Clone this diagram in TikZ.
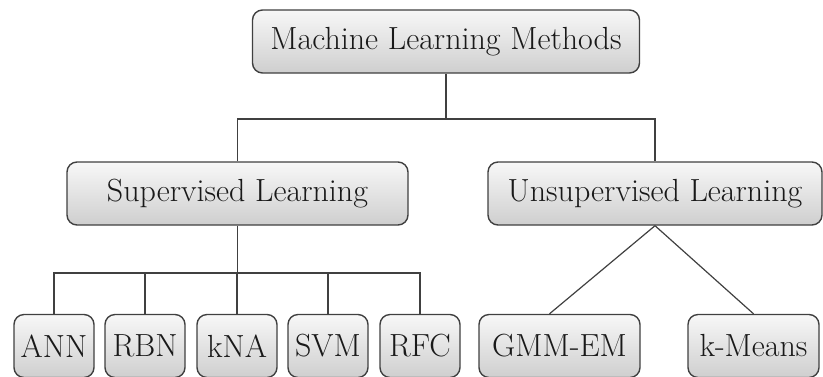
\documentclass[tikz,border=0pt]{standalone}
\usetikzlibrary{positioning,calc}
\tikzset{
mlbox/.style={draw=black!75, line width=0.7pt, rounded corners=5pt,
  top color=gray!6, bottom color=gray!38, inner sep=0pt,
  minimum height=31.5pt, text=black!90,
  font=\fontsize{16}{19}\selectfont},
conn/.style={draw=black!75, line width=0.6pt},
}

\begin{document}
\begin{tikzpicture}[x=0.5pt,y=-0.5pt]
        \useasboundingbox (0,0) rectangle (823,376);
        % root and the two branches
        \node[mlbox, minimum width=193.5pt] (mlm) at (446,41.5) {Machine Learning Methods};
        \node[mlbox, minimum width=170.5pt] (sup) at (237.5,193.5) {Supervised Learning};
        \node[mlbox, minimum width=167pt] (uns) at (655,193.5) {Unsupervised Learning};
        % supervised methods
        \node[mlbox, minimum width=40pt] (ann) at (54,346) {ANN};
        \node[mlbox, minimum width=40pt] (rbn) at (145,346) {RBN};
        \node[mlbox, minimum width=40pt] (kna) at (237,346) {kNA};
        \node[mlbox, minimum width=40pt] (svm) at (328,346) {SVM};
        \node[mlbox, minimum width=40pt] (rfc) at (420,346) {RFC};
        % unsupervised methods
        \node[mlbox, minimum width=80.5pt] (gmm) at (559.5,346) {GMM-EM};
        \node[mlbox, minimum width=65.5pt] (kmeans) at (753.5,346) {k-Means};

        \coordinate (split) at (446,119);
        \coordinate (suprow) at (237.5,273);
        \draw[conn] (mlm.south) -- (split);
        \draw[conn] (sup.north) |- (split) -| (uns.north);
        \draw[conn] (sup.south) -- (suprow);
        \draw[conn] (ann.north) |- (suprow) -| (rfc.north);
        \foreach \n in {rbn,kna,svm}
            \draw[conn] (\n.north) -- (\n.north |- suprow);
        \draw[conn] (uns.south) -- ([xshift=-5pt]gmm.north);
        \draw[conn] (uns.south) -- (kmeans.north);
    \end{tikzpicture}
\end{document}
